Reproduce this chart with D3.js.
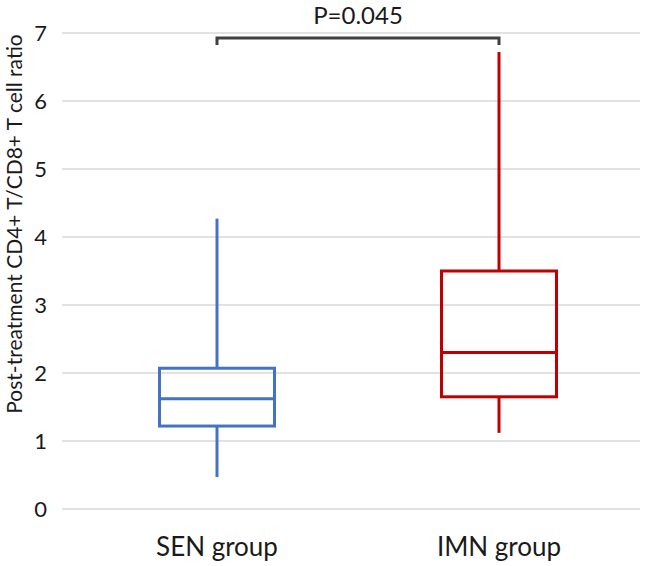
<!DOCTYPE html>
<head>
  <meta charset="utf-8">
  <script src="https://d3js.org/d3.v7.min.js"></script>
  <style>
    body { margin: 0; background: #fff; }
    text { font-family: Lato, "Open Sans", sans-serif; fill: #1a1a1a; }
    .grid line { stroke: #d9d9d9; stroke-width: 1.5px; }
  </style>
</head>

<body>
  <script>

    // box stats
    var groups = ["SEN group", "IMN group"];
    var mins = [0.47, 1.12];
    var q1s = [1.22, 1.65];
    var medians = [1.62, 2.30];
    var q3s = [2.07, 3.50];
    var maxs = [4.27, 6.72];
    var colors = ["#4472c4", "#c00000"];
    var yTicks = [0, 1, 2, 3, 4, 5, 6, 7];
    var pLabel = "P=0.045";

    var width = 645, height = 566;

    var svg = d3.select("body").append("svg")
      .attr("width", width)
      .attr("height", height);

    var y = d3.scaleLinear()
      .domain([0, 7])
      .range([509, 33]);

    var x = d3.scaleBand()
      .domain(groups)
      .range([76, 640]);

    var boxW = 115;

    // gridlines
    var grid = svg.append("g").attr("class", "grid");
    grid.selectAll("line").data(yTicks).enter().append("line")
      .attr("x1", 62).attr("x2", 640)
      .attr("y1", function(d) { return y(d); })
      .attr("y2", function(d) { return y(d); });

    svg.selectAll(".ytick").data(yTicks).enter().append("text")
      .attr("class", "ytick")
      .attr("x", 47)
      .attr("y", function(d) { return y(d); })
      .attr("dy", "0.35em")
      .attr("text-anchor", "end")
      .style("font-size", "22px")
      .text(function(d) { return d; });

    // y title
    svg.append("text")
      .attr("transform", "translate(22," + 224 + ") rotate(-90)")
      .attr("text-anchor", "middle")
      .style("font-size", "21px")
      .text("Post-treatment CD4+ T/CD8+ T cell ratio");

    // x labels
    svg.selectAll(".xlab").data(groups).enter().append("text")
      .attr("class", "xlab")
      .attr("x", function(d) { return x(d) + x.bandwidth() / 2; })
      .attr("y", 556)
      .attr("text-anchor", "middle")
      .style("font-size", "26px")
      .text(function(d) { return d; });

    // boxes
    var box = svg.selectAll(".box").data(groups).enter().append("g")
      .attr("class", "box")
      .attr("transform", function(d) { return "translate(" + (x(d) + x.bandwidth() / 2) + ",0)"; })
      .style("stroke", function(d, i) { return colors[i]; })
      .style("stroke-width", 3)
      .style("fill", "none");

    box.append("line")
      .attr("x1", 0).attr("x2", 0)
      .attr("y1", function(d, i) { return y(maxs[i]); })
      .attr("y2", function(d, i) { return y(q3s[i]); });

    box.append("line")
      .attr("x1", 0).attr("x2", 0)
      .attr("y1", function(d, i) { return y(q1s[i]); })
      .attr("y2", function(d, i) { return y(mins[i]); });

    box.append("rect")
      .attr("x", -boxW / 2)
      .attr("width", boxW)
      .attr("y", function(d, i) { return y(q3s[i]); })
      .attr("height", function(d, i) { return y(q1s[i]) - y(q3s[i]); });

    box.append("line")
      .attr("x1", -boxW / 2).attr("x2", boxW / 2)
      .attr("y1", function(d, i) { return y(medians[i]); })
      .attr("y2", function(d, i) { return y(medians[i]); });

    // significance bracket
    var xa = x(groups[0]) + x.bandwidth() / 2;
    var xb = x(groups[1]) + x.bandwidth() / 2;
    var by = y(7) + 5;
    svg.append("path")
      .attr("d", "M" + xa + "," + (by + 7) + "V" + by + "H" + xb + "V" + (by + 7))
      .style("fill", "none")
      .style("stroke", "#404040")
      .style("stroke-width", 3);

    svg.append("text")
      .attr("x", (xa + xb) / 2)
      .attr("y", 24)
      .attr("text-anchor", "middle")
      .style("font-size", "24px")
      .text(pLabel);

  </script>
</body>
